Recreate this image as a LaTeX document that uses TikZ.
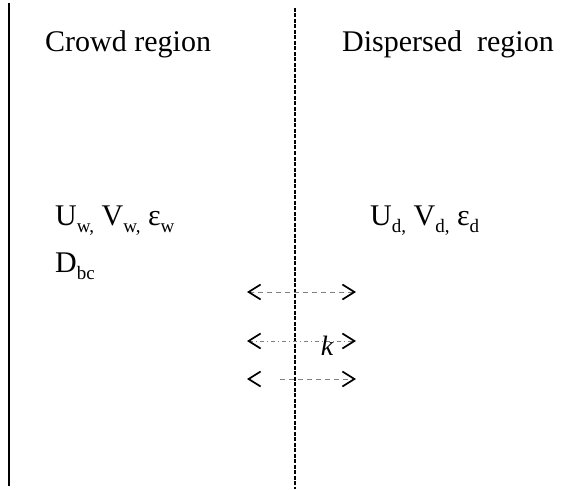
\documentclass[tikz,border=0pt]{standalone}
\usepackage{fontspec}
\setmainfont{Liberation Serif}
\usetikzlibrary{arrows.meta, positioning}
\newcommand{\subtxt}[1]{\raisebox{-7pt}{\fontsize{19}{19}\selectfont #1}}

\begin{document}
\begin{tikzpicture}[x=1pt, y=-1pt, font=\fontsize{30}{34}\selectfont,
    label/.style={anchor=base west, inner sep=0pt},
    tip/.tip={Straight Barb[black, length=12pt, width=15pt, line width=1.7pt]},
    flux/.style={gray, line width=0.7pt, dash pattern=on 5pt off 4pt, tip-tip}]
    \useasboundingbox (0,0) rectangle (585,489);

    % walls
    \draw[line width=2pt] (9,3) coordinate (wtop) -- (9,486) coordinate (wbot);
    \draw[line width=2.6pt, dash pattern=on 4pt off 1.5pt] (295,8) coordinate (itop) -- (295,489) coordinate (ibot);

    \node[label] (crowd) at (45,52) {Crowd region};
    \node[label] (disp) at (342,52) {Dispersed\ \ region};

    \node[label] (wvar) at (55,225) {U\subtxt{w,} V\subtxt{w,} ε\subtxt{w}};
    \node[label] (dbc) at (55,272) {D\subtxt{bc}};
    \node[label] (dvar) at (370,225) {U\subtxt{d,} V\subtxt{d,} ε\subtxt{d}};

    % exchange arrows
    \foreach \i/\y in {1/292, 2/341, 3/379} {
        \coordinate (l\i) at (247,\y);
        \coordinate (r\i) at (356,\y);
    }
    \coordinate (m3) at (280,379);
    \draw[flux] (l1) -- (r1);
    \draw[flux, dash pattern=on 4pt off 3pt on 1pt off 3pt] (l2) -- (r2);
    \draw[flux, -tip] (m3) -- (r3);
    \draw[tip-] (l3) -- ++(1,0);
    \node[font=\fontsize{28}{28}\selectfont\itshape, inner sep=0pt] (k) at (327,346) {k};
\end{tikzpicture}
\end{document}
